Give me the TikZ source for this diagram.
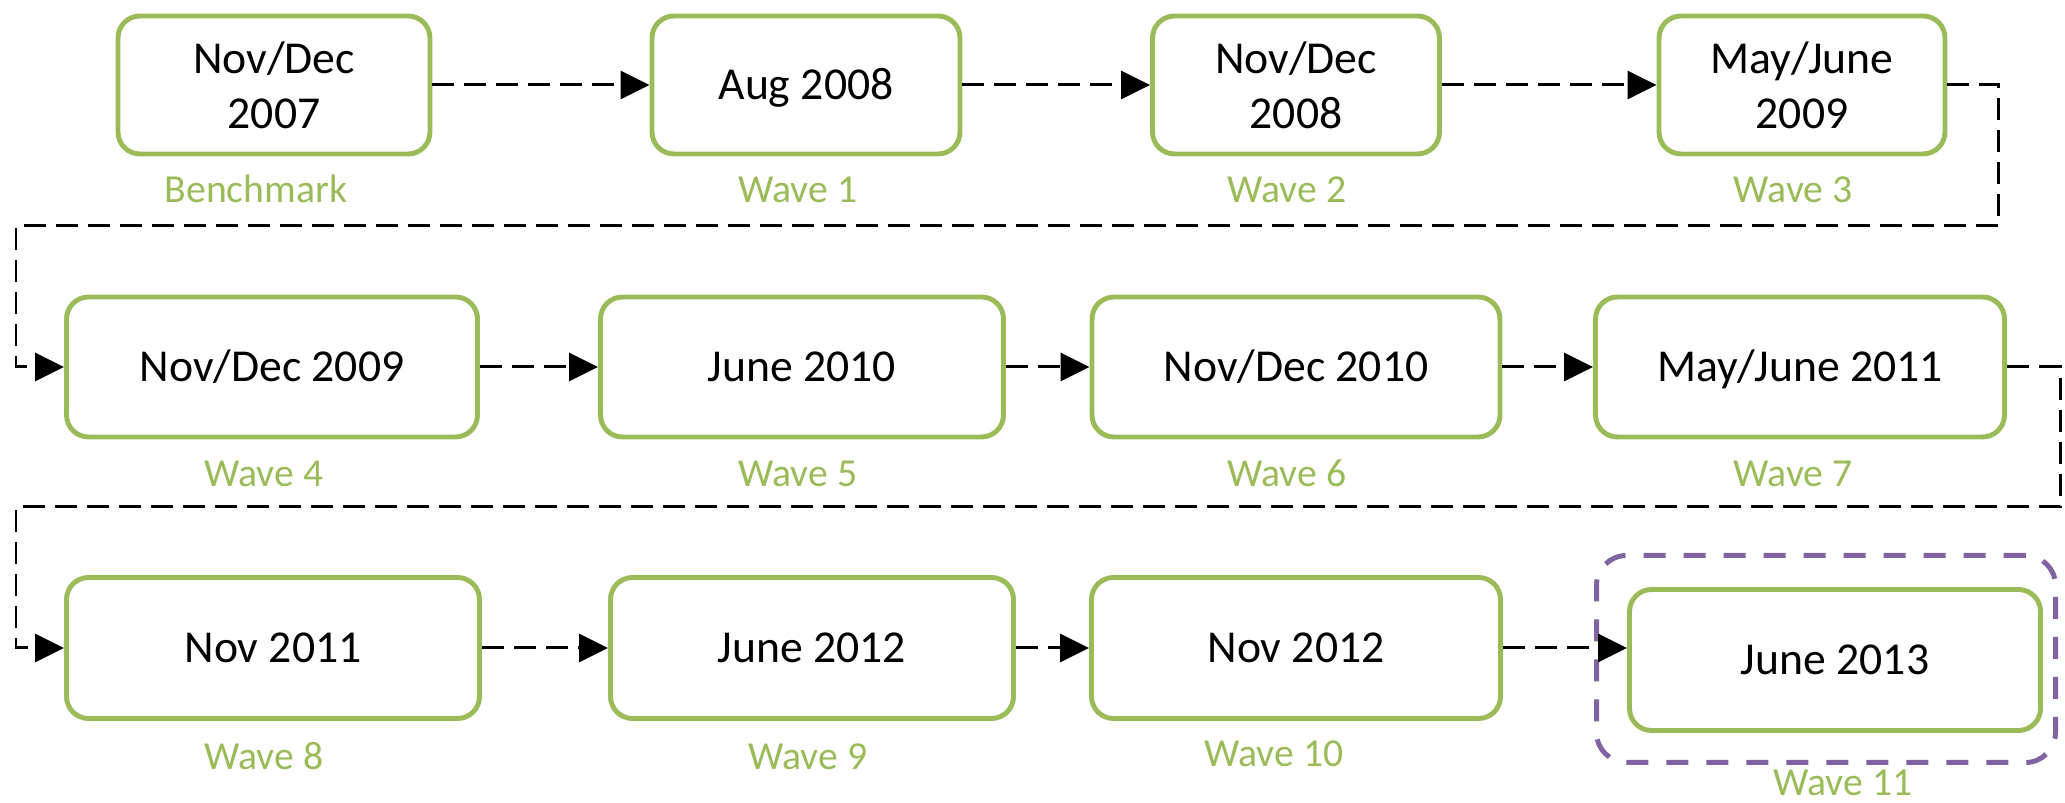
\documentclass[tikz,border=0pt]{standalone}
\usepackage{fontspec}
\setmainfont{Carlito}
\usetikzlibrary{arrows.meta}
\definecolor{wavegreen}{RGB}{155,187,89}
\definecolor{wavepurple}{RGB}{128,100,162}

\begin{document}
\begin{tikzpicture}[x=0.1mm, y=-0.1mm,
				datebox/.style = {draw=wavegreen, line width=1.4pt,
					rounded corners=0.22cm, fill=white, align=center,
					inner sep=0pt, font=\fontsize{13}{15.6}\selectfont},
				oneline/.style = {text height=0.29cm, text depth=0pt},
				wave/.style = {text=wavegreen, anchor=base,
					font=\fontsize{11.3}{13}\selectfont},
				link/.style = {draw, line width=0.85pt,
					dash pattern=on 0.22cm off 0.1cm,
					-{Triangle[length=0.29cm, width=0.28cm]}}]
				\useasboundingbox (0,0) rectangle (2065,803);
				
				% Row 1
				\node[datebox, minimum width=3.12cm, minimum height=1.38cm] (b1) at (274,85) {Nov/Dec\\2007};
				\node[datebox, oneline, minimum width=3.08cm, minimum height=1.38cm] (b2) at (806,85) {Aug 2008};
				\node[datebox, minimum width=2.87cm, minimum height=1.38cm] (b3) at (1296,85) {Nov/Dec\\2008};
				\node[datebox, minimum width=2.86cm, minimum height=1.38cm] (b4) at (1802,85) {May/June\\2009};
				\node[wave] (w0) at (256,203) {Benchmark};
				\node[wave] (w1) at (798,203) {Wave 1};
				\node[wave] (w2) at (1287,203) {Wave 2};
				\node[wave] (w3) at (1793,203) {Wave 3};
				
				% Row 2
				\node[datebox, oneline, minimum width=4.11cm, minimum height=1.40cm] (b5) at (272,367) {Nov/Dec 2009};
				\node[datebox, oneline, minimum width=4.03cm, minimum height=1.40cm] (b6) at (802,367) {June 2010};
				\node[datebox, oneline, minimum width=4.08cm, minimum height=1.40cm] (b7) at (1296,367) {Nov/Dec 2010};
				\node[datebox, oneline, minimum width=4.09cm, minimum height=1.40cm] (b8) at (1800,367) {May/June 2011};
				\node[wave] (w4) at (264,487) {Wave 4};
				\node[wave] (w5) at (798,487) {Wave 5};
				\node[wave] (w6) at (1287,487) {Wave 6};
				\node[wave] (w7) at (1793,487) {Wave 7};
				
				% Row 3
				\node[datebox, oneline, minimum width=4.13cm, minimum height=1.41cm] (b9) at (273,648) {Nov 2011};
				\node[datebox, oneline, minimum width=4.03cm, minimum height=1.41cm] (b10) at (812,648) {June 2012};
				\node[datebox, oneline, minimum width=4.09cm, minimum height=1.41cm] (b11) at (1296,648) {Nov 2012};
				\node[draw=wavepurple, line width=1.42pt, dash pattern=on 0.22cm off 0.18cm,
					rounded corners=0.3cm, minimum width=4.59cm, minimum height=2.07cm] (focus) at (1826,659) {};
				\node[datebox, oneline, minimum width=4.11cm, minimum height=1.41cm] (b12) at (1835,660) {June 2013};
				\node[wave] (w8) at (264,770) {Wave 8};
				\node[wave] (w9) at (808,770) {Wave 9};
				\node[wave] (w10) at (1274,767) {Wave 10};
				\node[wave] (w11) at (1843,796) {Wave 11};
				
				% Turning points
				\coordinate (turn1) at (1998,226);
				\coordinate (turn2) at (16,226);
				\coordinate (turn3) at (2060,507);
				\coordinate (turn4) at (16,507);
				
				% Connectors
				\draw[link] (b1) -- (b2);
				\draw[link] (b2) -- (b3);
				\draw[link] (b3) -- (b4);
				\draw[link] (b4.east) -| (turn1) -- (turn2) |- (b5.west);
				\draw[link] (b5) -- (b6);
				\draw[link] (b6) -- (b7);
				\draw[link] (b7) -- (b8);
				\draw[link] (b8.east) -| (turn3) -- (turn4) |- (b9.west);
				\draw[link] (b9) -- (b10);
				\draw[link] (b10) -- (b11);
				\draw[link] (b11.east) -- (b11.east -| b12.west);
				
		\end{tikzpicture}
\end{document}
